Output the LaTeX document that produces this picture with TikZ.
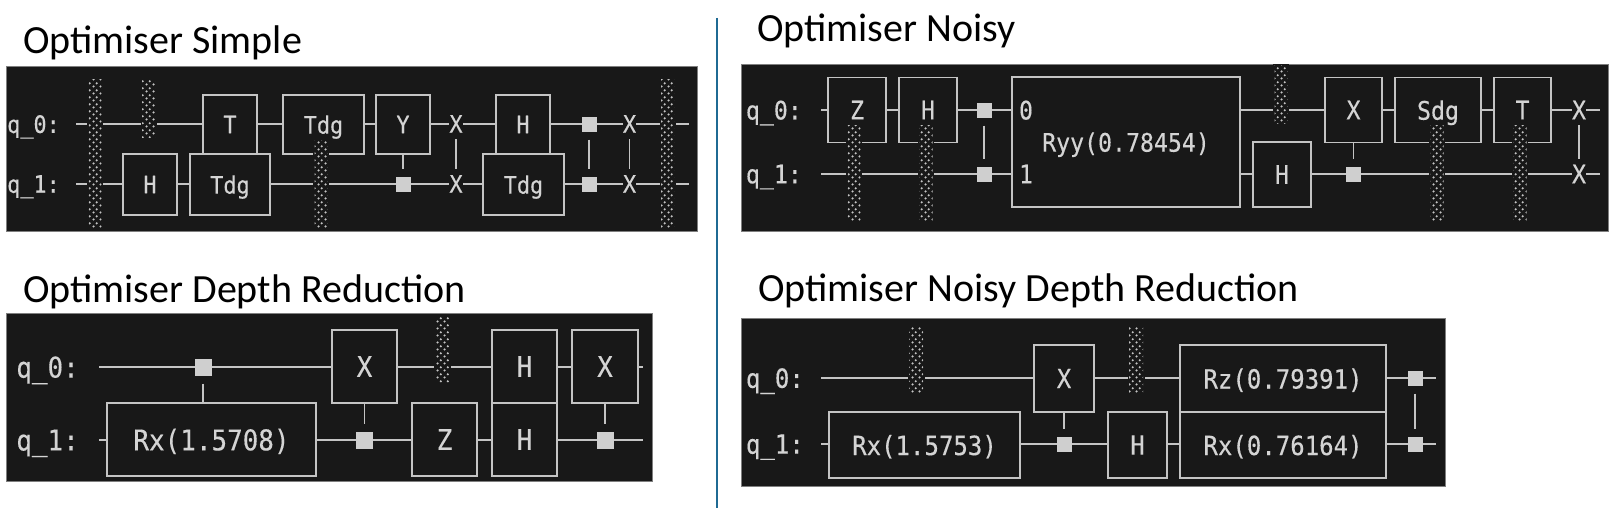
\documentclass[tikz,border=0pt]{standalone}
\usepackage{fontspec}
\usepackage{tikz}
\usetikzlibrary{patterns}
\setmainfont{Carlito}
\newfontfamily\termfont[FakeStretch=0.91,FakeBold=0.3]{DejaVu Sans Mono}
\definecolor{termbg}{HTML}{181818}
\definecolor{termline}{HTML}{C4C4C4}
\definecolor{termtext}{HTML}{D4D4D4}
\definecolor{ctrlfill}{HTML}{CFCFCF}
\definecolor{dividerblue}{HTML}{1F6A93}
\pgfdeclarepatternformonly{termdots}{\pgfqpoint{0pt}{0pt}}{\pgfqpoint{6.6pt}{6.6pt}}{\pgfqpoint{6.6pt}{6.6pt}}{
    \pgfpathcircle{\pgfqpoint{1.65pt}{1.65pt}}{1.25pt}
    \pgfpathcircle{\pgfqpoint{4.95pt}{4.95pt}}{1.25pt}
    \pgfusepath{fill}
}

\begin{document}
\begin{tikzpicture}[
    x=1pt, y=-1pt,
    term/.style={font=\termfont\fontsize{#1}{#1}\selectfont, text depth=0pt},
    heading/.style={font=\fontsize{40}{40}\selectfont, anchor=base west, inner sep=0pt},
    panel/.style 2 args={fill=termbg, draw=termline!60!termbg, line width=0.5pt, inner sep=0pt, minimum width=#1pt, minimum height=#2pt},
    gatebox/.style 2 args={draw=termline, fill=termbg, line width=1.4pt, text=termtext, inner sep=0pt, minimum width=#1pt, minimum height=#2pt},
    qlabel/.style={text=termtext, anchor=east, inner xsep=#1pt, inner ysep=0pt},
    wire/.style={draw=termline, line width=1.4pt},
    ctrl/.style={fill=ctrlfill, inner sep=0pt, minimum width=#1pt, minimum height=#1pt, outer xsep=0pt, outer ysep=8pt},
    swapx/.style={fill=termbg, text=termtext, inner sep=0pt, minimum width=13pt, minimum height=30pt, outer sep=0pt},
    barrier/.style 2 args={pattern=termdots, pattern color=termline, inner sep=0pt, minimum width=#1pt, minimum height=#2pt,
        preaction={fill=termbg, draw=termbg, line width=3pt}},
    pintext/.style={text=termtext, inner sep=0pt},
    divider/.style={draw=dividerblue, line width=2.4pt},
]
\useasboundingbox (0,0) rectangle (1614,511);
\coordinate (dtop) at (717,18);
\coordinate (dbot) at (717,508);
\draw[divider] (dtop) -- (dbot);

\node[heading] (atitle) at (23,53) {Optimiser Simple};
\node[heading] (btitle) at (23,302) {Optimiser Depth Reduction};
\node[heading] (ctitle) at (757,42) {Optimiser Noisy};
\node[heading] (dtitle) at (758,301) {Optimiser Noisy Depth Reduction};

\begin{scope}[every node/.append style={term=24}]
\node[panel={691}{165}] (apanel) at (351.5,148.5) {};
\node[qlabel=16] (aq0) at (76,124) {q\_0:};
\node[qlabel=16] (aq1) at (76,184) {q\_1:};
\coordinate (aend0) at (689,124);
\coordinate (aend1) at (689,184);
\draw[wire] (aq0) -- (aend0);
\draw[wire] (aq1) -- (aend1);
\node[gatebox={54}{59}] (aT) at (230,124.5) {T};
\node[gatebox={54}{61}] (aH1) at (150,184.5) {H};
\node[gatebox={80}{61}] (aTdg1) at (230,184.5) {Tdg};
\node[gatebox={81}{59}] (aTdg0) at (323.5,124.5) {Tdg};
\node[gatebox={54}{59}] (aY) at (403,124.5) {Y};
\node[gatebox={54}{59}] (aH0) at (523,124.5) {H};
\node[gatebox={81}{61}] (aTdg2) at (523.5,184.5) {Tdg};
\node[ctrl=15] (actrl1) at (403,184) {};
\node[swapx] (ax0) at (456,124) {X};
\node[swapx] (ax1) at (456,184) {X};
\node[ctrl=15] (actrl2) at (589,124) {};
\node[ctrl=15] (actrl3) at (589,184) {};
\node[swapx] (ax2) at (629.5,124) {X};
\node[swapx] (ax3) at (629.5,184) {X};
\draw[wire] (actrl1) -- (actrl1 |- aY.south);
\draw[wire] (ax0) -- (ax1);
\draw[wire] (actrl2) -- (actrl3);
\draw[wire] (ax2) -- (ax3);
\node[barrier={13}{148}] (ab1) at (95,153) {};
\node[barrier={13}{58}] (ab2) at (148.5,108) {};
\node[barrier={13}{87}] (ab3) at (321,183.5) {};
\node[barrier={13}{148}] (ab4) at (667.5,153) {};
\end{scope}

\begin{scope}[every node/.append style={term=28.5}]
\node[panel={646}{168}] (bpanel) at (329,397) {};
\node[qlabel=20] (bq0) at (99,367) {q\_0:};
\node[qlabel=20] (bq1) at (99,440) {q\_1:};
\coordinate (bend0) at (643,367);
\coordinate (bend1) at (643,440);
\draw[wire] (bq0) -- (bend0);
\draw[wire] (bq1) -- (bend1);
\node[gatebox={209}{73}] (bRx) at (211.5,439.5) {Rx(1.5708)};
\node[gatebox={65}{73}] (bX0) at (364.5,366.5) {X};
\node[gatebox={65}{73}] (bZ) at (444.5,439.5) {Z};
\node[gatebox={65}{73}] (bH0) at (524.5,366.5) {H};
\node[gatebox={65}{73}] (bH1) at (524.5,439.5) {H};
\node[gatebox={66}{73}] (bX1) at (605,366.5) {X};
\node[ctrl=17] (bctrl0) at (203,367) {};
\node[ctrl=17] (bctrl1) at (364.5,440) {};
\node[ctrl=17] (bctrl2) at (605,440) {};
\draw[wire] (bctrl0) -- (bctrl0 |- bRx.north);
\draw[wire] (bctrl1) -- (bctrl1 |- bX0.south);
\draw[wire] (bctrl2) -- (bctrl2 |- bX1.south);
\node[barrier={14}{66}] (bb1) at (442.5,349) {};
\end{scope}

\begin{scope}[every node/.append style={term=25.5}]
\node[panel={867}{167}] (cpanel) at (1174.5,147.5) {};
\node[qlabel=19] (cq0) at (821,110) {q\_0:};
\node[qlabel=19] (cq1) at (821,174) {q\_1:};
\coordinate (cend0) at (1600,110);
\coordinate (cend1) at (1600,174);
\draw[wire] (cq0) -- (cend0);
\draw[wire] (cq1) -- (cend1);
\node[gatebox={58}{65}] (cZ) at (857,110) {Z};
\node[gatebox={58}{65}] (cH0) at (928,110) {H};
\node[gatebox={228}{130}] (cRyy) at (1126,142) {Ryy(0.78454)};
\node[pintext] (cpin0) at (1026,110) {0};
\node[pintext] (cpin1) at (1026,174) {1};
\node[gatebox={58}{65}] (cH1) at (1282,174.5) {H};
\node[gatebox={57}{65}] (cX) at (1353.5,110) {X};
\node[gatebox={86}{65}] (cSdg) at (1438,110) {Sdg};
\node[gatebox={57}{65}] (cT) at (1522.5,110) {T};
\node[ctrl=15] (cctrl0) at (984,110) {};
\node[ctrl=15] (cctrl1) at (984,174) {};
\node[ctrl=15] (cctrl2) at (1353.5,174) {};
\node[swapx] (cx0) at (1579,110) {X};
\node[swapx] (cx1) at (1579,174) {X};
\draw[wire] (cctrl0) -- (cctrl1);
\draw[wire] (cctrl2) -- (cctrl2 |- cX.south);
\draw[wire] (cx0) -- (cx1);
\node[barrier={13}{95}] (cb1) at (854,172.5) {};
\node[barrier={13}{95}] (cb2) at (926,172.5) {};
\node[barrier={13}{57}] (cb3) at (1281,94.5) {};
\node[barrier={13}{95}] (cb4) at (1437,172.5) {};
\node[barrier={13}{95}] (cb5) at (1520,172.5) {};
\end{scope}

\begin{scope}[every node/.append style={term=26.4}]
\node[panel={704}{168}] (dpanel) at (1093,402) {};
\node[qlabel=17] (dq0) at (821,378) {q\_0:};
\node[qlabel=17] (dq1) at (821,444) {q\_1:};
\coordinate (dend0) at (1436,378);
\coordinate (dend1) at (1436,444);
\draw[wire] (dq0) -- (dend0);
\draw[wire] (dq1) -- (dend1);
\node[gatebox={191}{66}] (dRx0) at (924.5,445) {Rx(1.5753)};
\node[gatebox={60}{67}] (dX) at (1064,378.5) {X};
\node[gatebox={59}{66}] (dH) at (1137.5,445) {H};
\node[gatebox={206}{67}] (dRz) at (1283,378.5) {Rz(0.79391)};
\node[gatebox={206}{66}] (dRx1) at (1283,445) {Rx(0.76164)};
\node[ctrl=15] (dctrl0) at (1064,444) {};
\node[ctrl=15] (dctrl1) at (1415,378) {};
\node[ctrl=15] (dctrl2) at (1415,444) {};
\draw[wire] (dctrl0) -- (dctrl0 |- dX.south);
\draw[wire] (dctrl1) -- (dctrl2);
\node[barrier={14}{65}] (db1) at (916,359.5) {};
\node[barrier={14}{65}] (db2) at (1136,359.5) {};
\end{scope}
\end{tikzpicture}
\end{document}
